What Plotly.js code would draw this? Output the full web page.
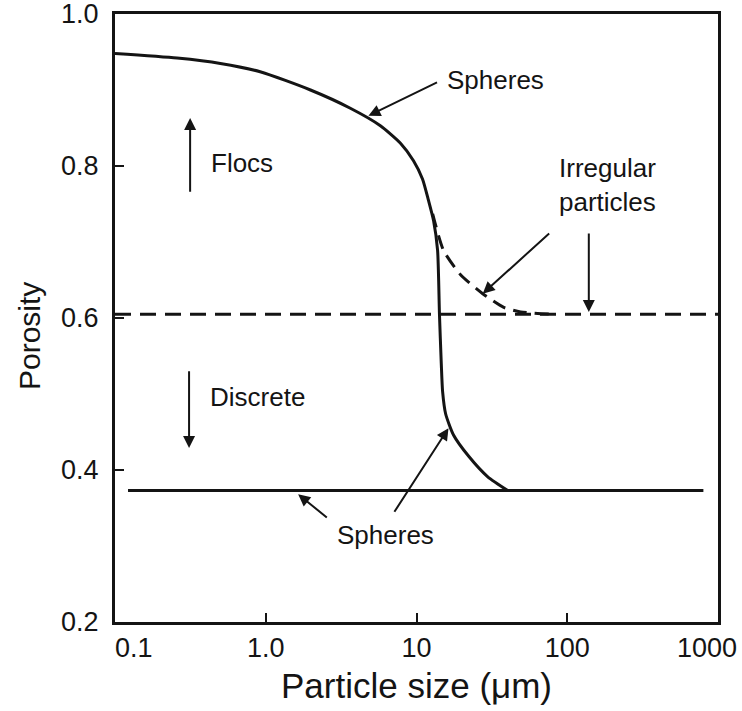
<!DOCTYPE html>
<html>
<head>
<meta charset="utf-8">
<script src="https://cdn.plot.ly/plotly-3.0.1.min.js"></script>
<style>html,body{margin:0;padding:0;background:#fff;}#chart{width:742px;height:711px;}</style>
</head>
<body>
<div id="chart"></div>
<script>
// Spheres: upper curve (flocs) falling to discrete packing
const spheresX = [0.1, 0.258, 0.5, 0.918, 1.98, 3.64, 5.76, 7.83, 9.55, 10.96, 12.0, 12.98, 13.8, 14.2, 14.6, 14.9, 15.6, 17.6, 22.2, 29.7, 40.3];
const spheresY = [0.948, 0.942, 0.935, 0.924, 0.900, 0.876, 0.853, 0.830, 0.807, 0.783, 0.755, 0.728, 0.689, 0.605, 0.540, 0.503, 0.474, 0.446, 0.418, 0.391, 0.373];
// Irregular particles branch (dashed)
const irregX = [12.8, 15.1, 19.6, 27.5, 37.9, 49.1, 77.6];
const irregY = [0.737, 0.689, 0.657, 0.632, 0.614, 0.608, 0.605];
// Discrete packing levels
const irregLevelX = [0.1, 1000];
const irregLevelY = [0.605, 0.605];
const sphereLevelX = [0.122, 800];
const sphereLevelY = [0.373, 0.373];
// Axis ticks
const xTickVals = [0.1, 1, 10, 100, 1000];
const xTickText = ['\u00a0\u00a0\u00a0\u00a0\u00a00.1', '1.0', '10', '100', ''];
const xLastTickText = '1000';
const yTickVals = [0.2, 0.4, 0.6, 0.8, 1.0];
const yTickText = ['0.2', '0.4', '0.6', '0.8', '1.0'];

const ink = '#141414';
const FONT = 'Liberation Sans, Arial, Helvetica, sans-serif';

const traces = [
  {x: spheresX, y: spheresY, mode: 'lines', line: {color: ink, width: 3, shape: 'spline', smoothing: 0.6}, hoverinfo: 'skip'},
  {x: irregX, y: irregY, mode: 'lines', line: {color: ink, width: 3, dash: '14px,8px', shape: 'spline', smoothing: 0.6}, hoverinfo: 'skip'},
  {x: irregLevelX, y: irregLevelY, mode: 'lines', line: {color: ink, width: 3, dash: '16px,9px'}, hoverinfo: 'skip'},
  {x: sphereLevelX, y: sphereLevelY, mode: 'lines', line: {color: ink, width: 3}, hoverinfo: 'skip'}
];

const L = Math.log10;
function txt(x, y, text) {
  return {x: L(x), y: y, xref: 'x', yref: 'y', text: text, showarrow: false,
          font: {family: FONT, size: 26, color: ink}, align: 'center'};
}
function arr(xh, yh, xt, yt) {
  return {x: L(xh), y: yh, ax: L(xt), ay: yt, xref: 'x', yref: 'y', axref: 'x', ayref: 'y',
          text: '', showarrow: true, arrowhead: 2, arrowsize: 1.2, arrowwidth: 2, arrowcolor: ink};
}

const annotations = [
  txt(33.5, 0.913, 'Spheres'),
  arr(4.8, 0.866, 14.0, 0.911),
  txt(0.70, 0.804, 'Flocs'),
  arr(0.315, 0.863, 0.315, 0.764),
  txt(0.88, 0.496, 'Discrete'),
  arr(0.31, 0.429, 0.31, 0.532),
  txt(186, 0.775, 'Irregular<br>particles'),
  arr(27.5, 0.632, 77.6, 0.713),
  arr(139, 0.608, 139, 0.713),
  txt(6.2, 0.314, 'Spheres'),
  arr(1.64, 0.368, 2.6, 0.336),
  arr(16.3, 0.455, 7.03, 0.343),
  {xref: 'paper', yref: 'paper', x: -0.143, y: 0.47, text: 'Porosity', textangle: -90, showarrow: false,
   font: {family: FONT, size: 30, color: ink}, xanchor: 'center', yanchor: 'middle'},
  {xref: 'x', yref: 'paper', x: L(xTickVals[4]), y: 0, text: xLastTickText, showarrow: false,
   xanchor: 'right', yanchor: 'middle', xshift: 21, yshift: -26,
   font: {family: FONT, size: 27, color: ink}}
];

const layout = {
  width: 742, height: 711,
  margin: {l: 115, r: 24, t: 14, b: 89},
  paper_bgcolor: '#fff', plot_bgcolor: '#fff',
  showlegend: false,
  font: {family: FONT, color: ink},
  xaxis: {
    type: 'log', range: [-1, 3],
    tickvals: xTickVals, ticktext: xTickText,
    ticks: 'inside', ticklen: 9, tickwidth: 2, tickcolor: ink,
    showline: true, linewidth: 3, linecolor: ink, mirror: true,
    showgrid: false, zeroline: false,
    ticklabeloverflow: 'allow',
    tickfont: {family: FONT, size: 27, color: ink},
    title: {text: 'Particle size (μm)', font: {family: FONT, size: 35, color: ink}, standoff: 12},
    automargin: false
  },
  yaxis: {
    range: [0.2, 1.0],
    tickvals: yTickVals, ticktext: yTickText,
    ticks: 'inside', ticklen: 9, tickwidth: 2, tickcolor: ink,
    showline: true, linewidth: 3, linecolor: ink, mirror: true,
    showgrid: false, zeroline: false,
    ticklabeloverflow: 'allow',
    tickfont: {family: FONT, size: 27, color: ink},
    ticklabelstandoff: 8,
    automargin: false
  },
  annotations: annotations
};

Plotly.newPlot('chart', traces, layout, {staticPlot: true, displayModeBar: false});
</script>
</body>
</html>
